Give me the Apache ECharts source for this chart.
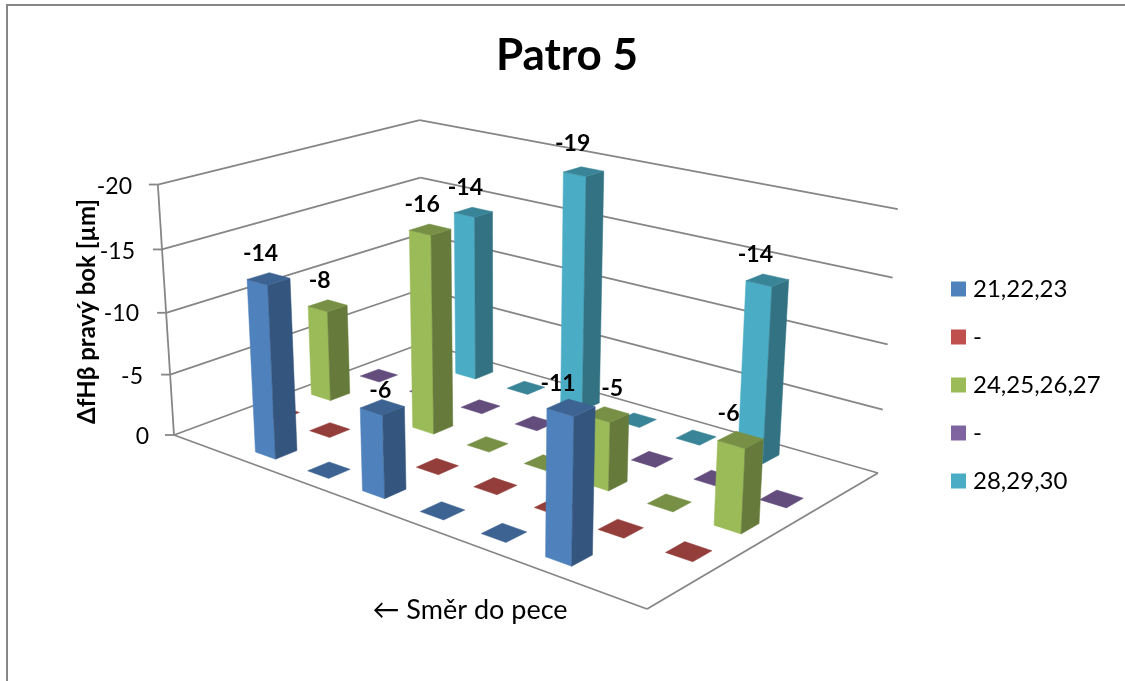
<!DOCTYPE html>
<html>
<head>
<meta charset="utf-8">
<title>Patro 5</title>
<script src="https://cdn.jsdelivr.net/npm/echarts@6/dist/echarts.min.js"></script>
<style>
  html, body { margin: 0; padding: 0; background: #fff; }
  #chart { width: 1125px; height: 681px; }
</style>
</head>
<body>
<div id="chart"></div>
<script>
// values, one array per row of the 3D chart (null = empty cell)
// the labels in the picture are rounded, bar heights are a bit finer than that
const seriesNames = ["21,22,23", "-", "24,25,26,27", "- ", "28,29,30"];
const row1 = [null, -13.7, 0, -6.4, 0, 0, -10.6, null];
const row2 = [0, 0, 0, 0, 0, 0, 0, 0];
const row3 = [-7.6, 0, -16, 0, 0, -5.3, 0, -6.3];
const row4 = [0, 0, 0, 0, 0, 0, 0, 0];
const row5 = [null, -14, 0, -19.2, 0, 0, -13.8, null];
const rows = [row1, row2, row3, row4, row5];
const yTicks = [0, -5, -10, -15, -20];
const colors = ["#4f81bd", "#c0504d", "#9bbb59", "#8064a2", "#4bacc6"];

const FONT = "Lato, Carlito, 'Noto Sans', sans-serif";
const GRAY = "#868686";
const nCols = 8;
const nRows = 5;
const barSize = 0.39;

// where the corners of the box land on the page, the camera is solved from these
const floorCorners = [
  [0, 0, 174, 435], [nCols, 0, 647, 609], [nCols, nRows, 878, 473], [0, nRows, 423, 343]
];
const topCorners = [
  [0, 0, 157, 184], [0, nRows, 421, 119], [nCols, nRows, 897, 211]
];

// a few labels sit off the usual spot, "row,col": [dx, dy]
const labelNudge = {
  "0,3": [6, 8], "0,6": [-5, 1], "2,5": [13, -1], "2,7": [-4, -1], "4,3": [-3, -3], "4,6": [-4, -1]
};

function solve(A, b) {
  const n = b.length;
  const m = A.map((r, i) => r.concat(b[i]));
  for (let i = 0; i < n; i++) {
    let p = i;
    for (let k = i + 1; k < n; k++) if (Math.abs(m[k][i]) > Math.abs(m[p][i])) p = k;
    [m[i], m[p]] = [m[p], m[i]];
    for (let k = 0; k < n; k++) {
      if (k === i) continue;
      const f = m[k][i] / m[i][i];
      for (let j = i; j <= n; j++) m[k][j] -= f * m[i][j];
    }
  }
  return m.map((r, i) => r[n] / r[i]);
}

function buildCamera() {
  const A = [], b = [];
  floorCorners.forEach(([x, y, u, v]) => {
    A.push([x, y, 1, 0, 0, 0, -u * x, -u * y]); b.push(u);
    A.push([0, 0, 0, x, y, 1, -v * x, -v * y]); b.push(v);
  });
  const h = solve(A, b);
  // height column, least squares over the top corners
  const rowsZ = [], rhs = [];
  topCorners.forEach(([x, y, u, v]) => {
    const w = h[6] * x + h[7] * y + 1;
    rowsZ.push([1, 0, -u]); rhs.push(u * w - (h[0] * x + h[1] * y + h[2]));
    rowsZ.push([0, 1, -v]); rhs.push(v * w - (h[3] * x + h[4] * y + h[5]));
  });
  const ata = [0, 1, 2].map(i => [0, 1, 2].map(j => rowsZ.reduce((s, r) => s + r[i] * r[j], 0)));
  const atb = [0, 1, 2].map(i => rowsZ.reduce((s, r, k) => s + r[i] * rhs[k], 0));
  const z = solve(ata, atb);
  return { h, z };
}
const cam = buildCamera();

function project(x, y, z) {
  const { h, z: c } = cam;
  const w = h[6] * x + h[7] * y + c[2] * z + 1;
  return [
    (h[0] * x + h[1] * y + c[0] * z + h[2]) / w,
    (h[3] * x + h[4] * y + c[1] * z + h[5]) / w
  ];
}

// height as a fraction of the axis, read through the value axis
function heightOf(api, val) {
  const y0 = api.coord([0, 0])[1];
  const y1 = api.coord([0, yTicks[yTicks.length - 1]])[1];
  return (api.coord([0, val])[1] - y0) / (y1 - y0);
}

function shade(color, k) {
  const c = echarts.color.parse(color);
  return "rgb(" + Math.round(c[0] * k) + "," + Math.round(c[1] * k) + "," + Math.round(c[2] * k) + ")";
}

function face(points, fill) {
  return { type: "polygon", shape: { points }, style: { fill, stroke: fill, lineWidth: 0.5 } };
}

function renderBar(row, color) {
  const side = shade(color, 0.66);
  const top = shade(color, 0.77);
  return function (params, api) {
    const col = api.value(0);
    const val = api.value(1);
    const z = heightOf(api, val);
    const g = (1 - barSize) / 2;
    const x0 = col + g, x1 = col + 1 - g, y0 = row + g, y1 = row + 1 - g;
    const children = [];
    if (val !== 0) {
      children.push(face([project(x0, y0, 0), project(x1, y0, 0), project(x1, y0, z), project(x0, y0, z)], color));
      children.push(face([project(x1, y0, 0), project(x1, y1, 0), project(x1, y1, z), project(x1, y0, z)], side));
    }
    children.push(face([project(x0, y0, z), project(x1, y0, z), project(x1, y1, z), project(x0, y1, z)], top));
    if (val !== 0) {
      const c = project(col + 0.5, row + 0.5, z);
      const nudge = labelNudge[row + "," + col] || [0, 0];
      children.push({
        type: "text",
        z2: 100,
        style: {
          x: c[0] - 8 + nudge[0], y: c[1] - 25 + nudge[1],
          text: String(Math.round(val)),
          fill: "#000",
          font: "bold 23px " + FONT,
          textAlign: "center",
          textVerticalAlign: "middle"
        }
      });
    }
    return { type: "group", children };
  };
}

function line(a, b) {
  return { type: "line", shape: { x1: a[0], y1: a[1], x2: b[0], y2: b[1] }, style: { stroke: GRAY, lineWidth: 1.8 } };
}

// side wall + back wall lines, one item per axis tick
function renderWall(params, api) {
  const z = heightOf(api, api.value(1));
  const left = project(0, 0, z), back = project(0, nRows, z), right = project(nCols, nRows, z);
  const children = [
    line(left, back),
    line(back, right),
    line(left, [left[0] - 9, left[1]])
  ];
  if (api.value(1) === 0) {
    const front = project(nCols, 0, 0);
    children.push(line(left, front), line(front, right), line(left, project(0, 0, 1)));
  }
  return { type: "group", children };
}

// labels follow the slanted edge of the wall, so each one gets its own padding
const tickRich = {
  t0: { padding: [0, 0, 0, 0] },
  t5: { padding: [5, 6, 0, 0] },
  t10: { padding: [4, 10, 0, 0] },
  t15: { padding: [6, 14, 0, 0] },
  t20: { padding: [2, 17, 0, 0] }
};

const series = [{
  type: "custom",
  silent: true,
  clip: false,
  data: yTicks.map(t => [0, t]),
  renderItem: renderWall,
  animation: false
}];
// back row first so the nearer bars cover it
for (let r = nRows - 1; r >= 0; r--) {
  series.push({
    name: seriesNames[r],
    type: "custom",
    silent: true,
    clip: false,
    itemStyle: { color: colors[r] },
    data: rows[r].map((v, i) => [i, v]).filter(d => d[1] !== null),
    renderItem: renderBar(r, colors[r]),
    animation: false
  });
}

const chart = echarts.init(document.getElementById("chart"));
chart.setOption({
  animation: false,
  backgroundColor: "#fff",
  textStyle: { fontFamily: FONT },
  title: {
    text: "Patro 5",
    left: 562,
    top: 29,
    textAlign: "center",
    textStyle: { fontFamily: FONT, fontSize: 44, fontWeight: "bold", color: "#000" }
  },
  legend: {
    data: seriesNames,
    orient: "vertical",
    left: 946,
    top: 272,
    itemWidth: 15,
    itemHeight: 15,
    itemGap: 24,
    icon: "rect",
    textStyle: { fontFamily: FONT, fontSize: 24, color: "#000", padding: [0, 0, 0, 2] }
  },
  grid: { left: 152, right: 200, top: 186, bottom: 244 },
  xAxis: { type: "value", min: 0, max: nCols, show: false },
  yAxis: {
    type: "value",
    inverse: true,
    min: -20,
    max: 0,
    interval: 5,
    name: "ΔfHβ pravý bok [µm]",
    nameLocation: "middle",
    nameRotate: 90,
    nameGap: 53,
    nameMoveOverlap: false,
    nameTextStyle: { fontFamily: FONT, fontSize: 24, fontWeight: "bold", color: "#000" },
    axisLine: { show: false },
    axisTick: { show: false },
    splitLine: { show: false },
    axisLabel: {
      margin: 3,
      color: "#000",
      fontFamily: FONT,
      fontSize: 23,
      formatter: v => "{t" + Math.abs(v) + "|" + v + "}",
      rich: tickRich
    }
  },
  graphic: [
    { type: "rect", silent: true, shape: { x: 7, y: 5, width: 1400, height: 1000 }, style: { fill: "none", stroke: GRAY, lineWidth: 2 } },
    { type: "text", silent: true, x: 470, y: 610, style: { text: "← Směr do pece", fill: "#000", font: "27px " + FONT, textAlign: "center", textVerticalAlign: "middle" } }
  ],
  series
});
</script>
</body>
</html>
